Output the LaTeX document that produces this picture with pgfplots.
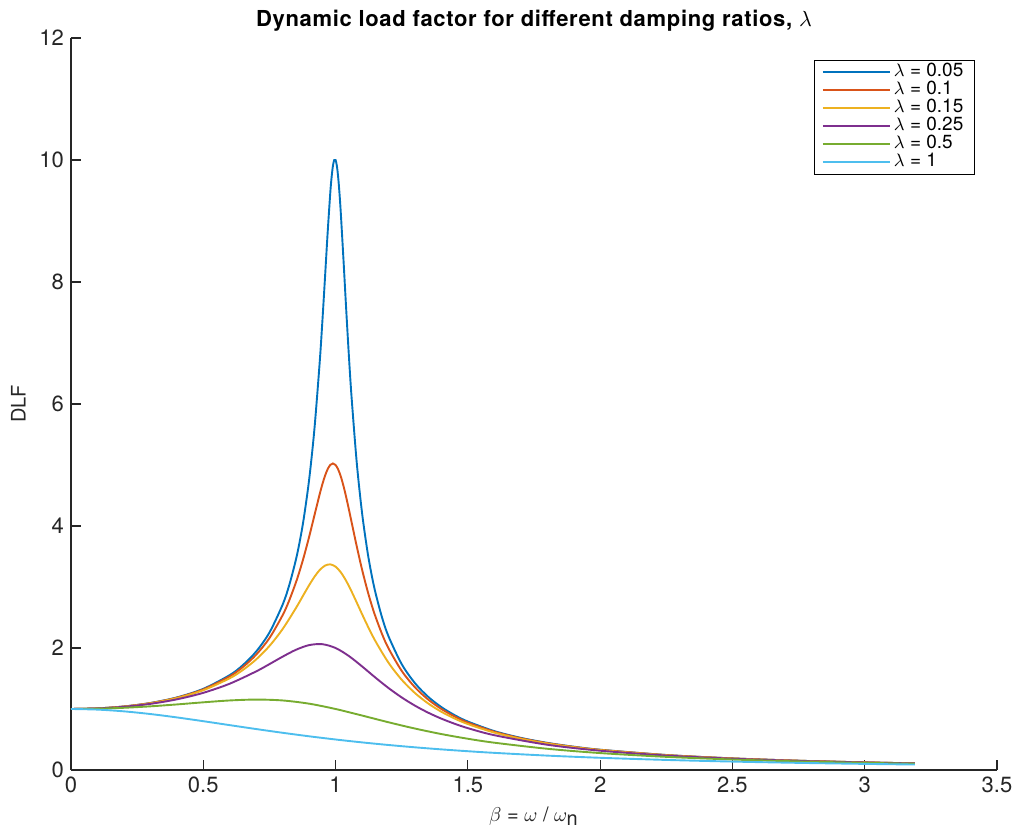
\documentclass[border=0pt]{standalone}
\usepackage{pgfplots}
\pgfplotsset{compat=1.18}
\usepackage{fontspec}
\setmainfont{TeX Gyre Heros}
\definecolor{c1}{rgb}{0,0.447,0.741}
\definecolor{c2}{rgb}{0.85,0.325,0.098}
\definecolor{c3}{rgb}{0.929,0.694,0.125}
\definecolor{c4}{rgb}{0.494,0.184,0.556}
\definecolor{c5}{rgb}{0.466,0.674,0.188}
\definecolor{c6}{rgb}{0.301,0.745,0.933}
\definecolor{axisgray}{rgb}{0.15,0.15,0.15}
\begin{document}
\begin{tikzpicture}
\path[use as bounding box] (-35.5pt,-29.5pt) rectangle (471.5pt,385pt);
\begin{axis}[
  scale only axis, width=463pt, height=366pt,
  xmin=0, xmax=3.5, ymin=0, ymax=12,
  xtick={0,0.5,1,1.5,2,2.5,3,3.5}, ytick={0,2,4,6,8,10,12},
  xticklabels={0,0.5,1,1.5,2,2.5,3,3.5},
  axis x line*=bottom, axis y line*=left,
  axis line style={color=axisgray, line width=0.6pt, -},
  tick style={color=axisgray, line width=0.6pt},
  major tick length=5pt, tick align=inside,
  ticklabel style={font=\fontsize{11}{13}\selectfont, text=axisgray},
  /pgf/number format/assume math mode=true,
  title={\textbf{\addfontfeature{LetterSpace=3}Dynamic load factor for different damping ratios,} $\lambda$},
  title style={font=\fontsize{11}{13}\selectfont, at={(axis description cs:0.5,1)}, anchor=base, yshift=-0.5pt, inner sep=0pt},
  xlabel={$\beta$ = $\omega$ / $\omega_{\textrm{n}}$},
  xlabel style={font=\fontsize{10}{12}\selectfont, text=axisgray},
  ylabel={DLF},
  ylabel style={font=\fontsize{10}{12}\selectfont, text=axisgray},
  legend cell align=left,
  legend style={at={(0.976,0.97)}, anchor=north east,
    font=\fontsize{9.5}{10}\selectfont, inner xsep=4pt, inner ysep=1.5pt,
    nodes={inner xsep=1.5pt, inner ysep=0pt, text height=6.8pt, text depth=2.2pt}},
  legend image code/.code={\draw[#1] (0pt,0pt) -- (33.5pt,0pt);},
  every axis plot/.append style={line width=0.95pt, mark=none, smooth},
]
\addplot[c1] coordinates {
(0,1) (0.1,1.0100) (0.2,1.0414) (0.3,1.0983) (0.4,1.1891) (0.5,1.3304) (0.6,1.5557)
(0.65,1.7207) (0.7,1.9426) (0.75,2.2529) (0.8,2.7116) (0.825,3.0316) (0.85,3.4456) (0.865,3.7563)
(0.88,4.1296) (0.9,4.7565) (0.92,5.5853) (0.94,6.6837) (0.95,7.3459) (0.96,8.0680)
(0.97,8.8037) (0.98,9.4610) (0.985,9.7180) (0.99,9.9030) (0.995,10.0001) (1.0,10.0)
(1.005,9.9011) (1.01,9.7107) (1.015,9.4424) (1.02,9.1150) (1.03,8.3571)
(1.04,7.5648) (1.05,6.8149) (1.06,6.1414) (1.08,5.0409) (1.1,4.2182) (1.12,3.5976)
(1.135,3.2282) (1.15,2.9206) (1.175,2.5104) (1.2,2.1926) (1.25,1.7354) (1.3,1.4242)
(1.35,1.1998) (1.4,1.0308) (1.45,0.8993) (1.5,0.7943) (1.6,0.6377) (1.7,0.5270) (1.8,0.4450)
(1.9,0.3821) (2.0,0.3326) (2.25,0.2458)
(2.5,0.1903) (2.75,0.1522) (3.0,0.1249) (3.19,0.1089)};
\addlegendentry{$\lambda$ = 0.05}
\addplot[c2] coordinates {
(0,1) (0.1,1.0099) (0.2,1.0408) (0.3,1.0965) (0.4,1.1851) (0.5,1.3216) (0.6,1.5357)
(0.65,1.6893) (0.7,1.8908) (0.75,2.1622) (0.8,2.5384) (0.825,2.7818) (0.85,3.0728) (0.865,3.2735)
(0.88,3.4949) (0.9,3.8208) (0.92,4.1721) (0.94,4.5224) (0.95,4.6826) (0.96,4.8218)
(0.97,4.9310) (0.98,5.0010) (0.99,5.0252) (1.0,5.0) (1.01,4.9261) (1.02,4.8086)
(1.03,4.6551) (1.04,4.4756) (1.05,4.2794) (1.06,4.0750) (1.08,3.6676) (1.1,3.2880)
(1.12,2.9502) (1.135,2.7257) (1.15,2.5245) (1.175,2.2355) (1.2,1.9952) (1.25,1.6245)
(1.3,1.3562) (1.35,1.1552) (1.4,1.0) (1.45,0.8772) (1.5,0.7779) (1.6,0.6279) (1.7,0.5207)
(1.8,0.4408) (1.9,0.3791) (2.0,0.3304)
(2.25,0.2447) (2.5,0.1896) (2.75,0.1518) (3.0,0.1246) (3.19,0.1087)};
\addlegendentry{$\lambda$ = 0.1}
\addplot[c3] coordinates {
(0,1) (0.1,1.0096) (0.2,1.0396) (0.3,1.0936) (0.4,1.1785) (0.5,1.3074) (0.6,1.5041)
(0.65,1.6406) (0.7,1.8131) (0.75,2.0327) (0.8,2.3113) (0.85,2.6534) (0.88,2.8797) (0.9,3.0289)
(0.92,3.1659) (0.94,3.2778) (0.96,3.3503) (0.98,3.3709) (1.0,3.3333)
(1.02,3.2399) (1.04,3.1008) (1.06,2.9310) (1.08,2.7455) (1.1,2.5566) (1.12,2.3728)
(1.15,2.1174) (1.2,1.7590) (1.25,1.4792) (1.3,1.2617) (1.35,1.0907) (1.4,0.9543)
(1.45,0.8437) (1.5,0.7527) (1.6,0.6127) (1.7,0.5108) (1.8,0.4340) (1.9,0.3743)
(2.0,0.3269) (2.25,0.2428) (2.5,0.1886) (2.75,0.1512)
(3.0,0.1242) (3.19,0.1084)};
\addlegendentry{$\lambda$ = 0.15}
\addplot[c4] coordinates {
(0,1) (0.1,1.0088) (0.2,1.0361) (0.3,1.0843) (0.4,1.1581) (0.5,1.2649) (0.6,1.4148)
(0.7,1.6167) (0.75,1.7354) (0.8,1.8582) (0.85,1.9702) (0.9,2.0472) (0.95,2.0623)
(1.0,2.0) (1.05,1.8695) (1.1,1.6986) (1.15,1.5168) (1.2,1.3440) (1.25,1.1893) (1.3,1.0549)
(1.35,0.9398) (1.4,0.8417) (1.45,0.7579) (1.5,0.6860) (1.6,0.5704) (1.8,0.4142) (2.0,0.3162) (2.25,0.2372)
(2.5,0.1853) (2.75,0.1491) (3.0,0.1229) (3.19,0.1074)};
\addlegendentry{$\lambda$ = 0.25}
\addplot[c5] coordinates {
(0,1) (0.1,1.0050) (0.2,1.0198) (0.3,1.0436) (0.4,1.0748) (0.5,1.1094) (0.6,1.1399)
(0.7,1.1546) (0.8,1.1399) (0.9,1.0872) (1.0,1.0) (1.1,0.8930)
(1.2,0.7824) (1.3,0.6795) (1.4,0.5891) (1.5,0.5121) (1.6,0.4475) (1.8,0.3480)
(2.0,0.2774) (2.25,0.2153) (2.5,0.1720) (2.75,0.1405) (3.0,0.1170) (3.19,0.1029)};
\addlegendentry{$\lambda$ = 0.5}
\addplot[c6] coordinates {
(0,1) (0.1,0.9901) (0.2,0.9615) (0.3,0.9174) (0.4,0.8621) (0.5,0.8) (0.6,0.7353)
(0.7,0.6711) (0.8,0.6098) (0.9,0.5525) (1.0,0.5) (1.1,0.4525) (1.2,0.4098)
(1.3,0.3717) (1.4,0.3378) (1.5,0.3077) (1.6,0.2809) (1.8,0.2358) (2.0,0.2)
(2.25,0.1649) (2.5,0.1379) (2.75,0.1168) (3.0,0.1) (3.19,0.0895)};
\addlegendentry{$\lambda$ = 1}
\end{axis}
\end{tikzpicture}
\end{document}
